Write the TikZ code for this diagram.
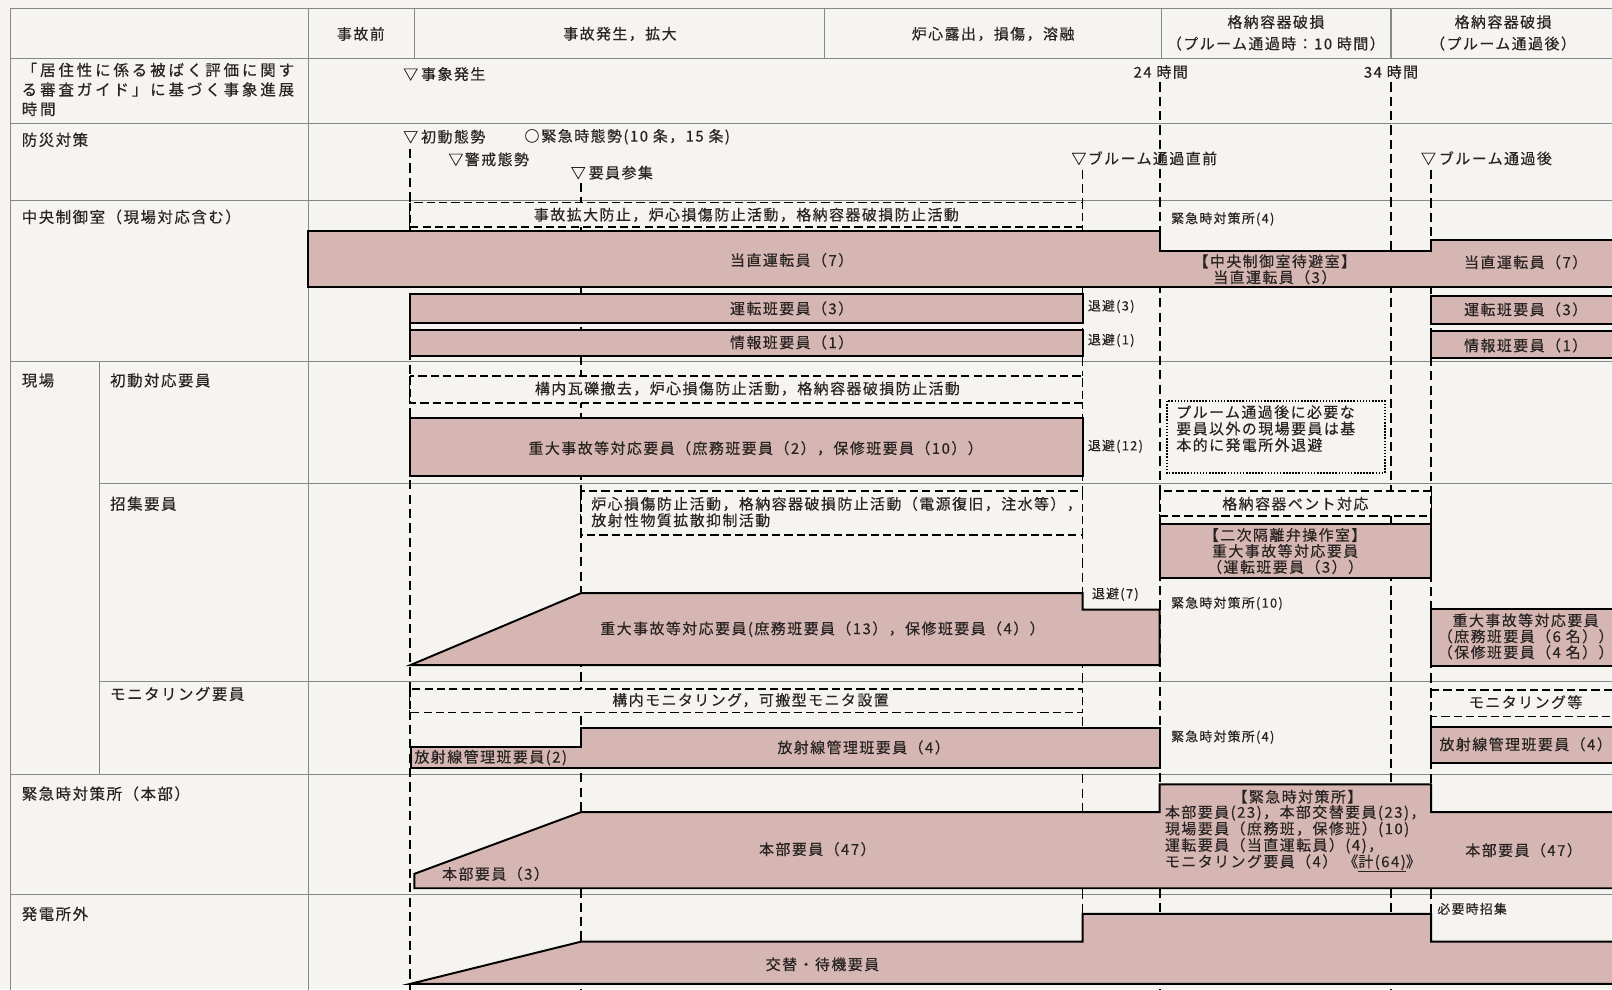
\documentclass[tikz,border=0pt]{standalone}
\usepackage{fontspec}
\setmainfont{Noto Sans CJK JP}[LetterSpace=10,FakeBold=0.4]
\newfontfamily\jpL{Noto Sans CJK JP}[LetterSpace=19,FakeBold=0.4]
\definecolor{bgc}{RGB}{245,244,240}
\definecolor{pinkc}{RGB}{214,182,178}
\definecolor{gridc}{RGB}{135,135,135}
\definecolor{txtc}{RGB}{40,36,36}
\tikzset{
 gridline/.style={draw=gridc, line width=1.1pt},
 tl/.style={draw=black, line width=1.7pt, dash pattern=on 9pt off 5pt},
 dbox/.style={draw=black, line width=1.8pt, dash pattern=on 8pt off 4pt, fill=bgc},
 dotbox/.style={draw=black, line width=1.6pt, dash pattern=on 1.5pt off 1.5pt},
 pbox/.style={draw=black, line width=1.9pt, fill=pinkc, line join=miter},
 tx/.style={font=\fontsize{14.5}{16}\selectfont, text=txtc, inner sep=0pt, align=center},
 th/.style={font=\fontsize{14.5}{21}\selectfont, text=txtc, inner sep=0pt, align=center},
 tlab/.style={font=\fontsize{15}{19}\selectfont, text=txtc, inner sep=0pt, anchor=west, align=left},
 ts/.style={font=\fontsize{12.5}{14}\selectfont, text=txtc, inner sep=0pt, anchor=west},
}
\begin{document}
\begin{tikzpicture}[x=1pt,y=-1pt]
\useasboundingbox (0,0) rectangle (1568,962);
\clip (0,0) rectangle (1568,962);
\fill[bgc] (0,0) rectangle (1568,962);

% table grid
\draw[gridline] (10,8) -- (1575,8);
\draw[gridline] (10,57) -- (1575,57);
\draw[gridline] (10,120) -- (1575,120);
\draw[gridline] (10,195) -- (1575,195);
\draw[gridline] (10,352) -- (1575,352);
\draw[gridline] (97,470) -- (1575,470);
\draw[gridline] (97,663) -- (1575,663);
\draw[gridline] (10,753) -- (1575,753);
\draw[gridline] (10,870) -- (1575,870);
\draw[gridline] (10,8) -- (10,970);
\draw[gridline] (97,352) -- (97,753);
\draw[gridline] (300,8) -- (300,970);
\draw[gridline] (403,8) -- (403,57);
\draw[gridline] (802,8) -- (802,57);
\draw[gridline] (1130,8) -- (1130,57);
\draw[gridline] (1353,8) -- (1353,57);

% timeline dashed lines
\draw[tl] (399,145) -- (399,970);
\draw[tl] (565,178) -- (565,970);
\draw[tl] (1053,165) -- (1053,970);
\draw[tl] (1128,80) -- (1128,970);
\draw[tl] (1353,80) -- (1353,970);
\draw[tl] (1392,165) -- (1392,970);

% header
\node[th] (h0) at (351,33) {事故前};
\node[th] (h1) at (603,33) {事故発生，拡大};
\node[th] (h2) at (966,33) {炉心露出，損傷，溶融};
\node[th] (h3) at (1241,32) {格納容器破損\\（プルーム通過時：10 時間）};
\node[th] (h4) at (1462,32) {格納容器破損\\（プルーム通過後）};

% left labels
\node[tlab, font=\jpL\fontsize{15}{19}\selectfont] (L1) at (21,87) {「居住性に係る被ばく評価に関す\\る審査ガイド」に基づく事象進展\\時間};
\node[tlab] (L2) at (21,136) {防災対策};
\node[tlab] (L3) at (21,211) {中央制御室（現場対応含む）};
\node[tlab] (L4) at (21,370) {現場};
\node[tlab] (L5) at (107,370) {初動対応要員};
\node[tlab] (L6) at (107,490) {招集要員};
\node[tlab] (L7) at (107,675) {モニタリング要員};
\node[tlab] (L8) at (21,772) {緊急時対策所（本部）};
\node[tlab] (L9) at (21,889) {発電所外};

% event timing row
\node[tx, anchor=west] (ev1) at (392,72) {▽\hspace{3pt}事象発生};
\node[tx] (t24) at (1129,70) {24 時間};
\node[tx] (t34) at (1353,70) {34 時間};

% disaster prevention row
\node[tx, anchor=west] (b1) at (392,133) {▽\hspace{3pt}初動態勢};
\node[tx, anchor=west] (b2) at (510,133) {○\hspace{2pt}緊急時態勢(10 条，15 条)};
\node[tx, anchor=west] (b3) at (436,155) {▽警戒態勢};
\node[tx, anchor=west] (b4) at (555,168) {▽\hspace{3pt}要員参集};
\node[tx, anchor=west] (b5) at (1042,154) {▽ブルーム通過直前};
\node[tx, anchor=west] (b6) at (1382,154) {▽\hspace{3pt}ブルーム通過後};

% central control room
\draw[dbox] (399,197) rectangle (1053,221);
\node[tx] (c0) at (726,209) {事故拡大防止，炉心損傷防止活動，格納容器破損防止活動};
\draw[pbox] (300,225) -- (1128,225) -- (1128,244) -- (1392,244) -- (1392,233) -- (1580,233) -- (1580,279) -- (300,279) -- cycle;
\node[tx] (c1) at (770,253) {当直運転員（7）};
\node[tx, font=\fontsize{14.5}{15.5}\selectfont] (c2) at (1240,262) {【中央制御室待避室】\\当直運転員（3）};
\node[tx] (c3) at (1484,255) {当直運転員（7）};
\node[ts] (c4) at (1139,213) {緊急時対策所(4)};
\draw[pbox] (399,286) rectangle (1053,314);
\node[tx] (c5) at (770,300) {運転班要員（3）};
\node[ts] (c6) at (1058,298) {退避(3)};
\draw[pbox] (399,321) rectangle (1053,346);
\node[tx] (c7) at (770,333) {情報班要員（1）};
\node[ts] (c8) at (1058,331) {退避(1)};
\draw[pbox] (1392,288) rectangle (1580,315);
\node[tx] (c9) at (1484,301) {運転班要員（3）};
\draw[pbox] (1392,322) rectangle (1580,348);
\node[tx] (c10) at (1484,336) {情報班要員（1）};

% site: initial response
\draw[dbox] (399,366) rectangle (1053,392);
\node[tx] (s0) at (727,378) {構内瓦礫撤去，炉心損傷防止活動，格納容器破損防止活動};
\draw[pbox] (399,407) rectangle (1053,463);
\node[tx] (s1) at (735,436) {重大事故等対応要員（庶務班要員（2），保修班要員（10））};
\node[ts] (s2) at (1058,434) {退避(12)};
\draw[dotbox] (1135,390) rectangle (1347,460);
\node[tx, anchor=north west, align=left] (s3) at (1144,394) {プルーム通過後に必要な\\要員以外の現場要員は基\\本的に発電所外退避};

% site: called staff
\draw[dbox] (565,478) rectangle (1053,520);
\node[tx, anchor=west, align=left] (r0) at (575,498) {炉心損傷防止活動，格納容器破損防止活動（電源復旧，注水等），\\放射性物質拡散抑制活動};
\draw[dbox] (1128,478) rectangle (1392,502);
\node[tx] (r1) at (1260,490) {格納容器ベント対応};
\draw[pbox] (1128,510) rectangle (1392,562);
\node[tx, font=\fontsize{14.5}{15.5}\selectfont] (r2) at (1250,536) {【二次隔離弁操作室】\\重大事故等対応要員\\（運転班要員（3））};
\draw[pbox] (399,647) -- (565,577) -- (1053,577) -- (1053,593) -- (1128,593) -- (1128,647) -- cycle;
\node[tx] (r3) at (800,612) {重大事故等対応要員(庶務班要員（13），保修班要員（4））};
\node[ts] (r4) at (1062,578) {退避(7)};
\node[ts] (r5) at (1139,587) {緊急時対策所(10)};
\draw[pbox] (1392,592) rectangle (1580,648);
\node[tx, font=\fontsize{14.5}{15.5}\selectfont] (r6) at (1484,619) {重大事故等対応要員\\（庶務班要員（6 名））\\（保修班要員（4 名））};

% site: monitoring staff
\draw[dbox] (399,670) rectangle (1053,693);
\node[tx] (m0) at (730,681) {構内モニタリング，可搬型モニタ設置};
\draw[pbox] (400,727) -- (565,727) -- (565,708) -- (1128,708) -- (1128,747) -- (400,747) -- cycle;
\node[tx, anchor=west] (m1) at (403,737) {放射線管理班要員(2)};
\node[tx] (m2) at (840,727) {放射線管理班要員（4）};
\node[ts] (m3) at (1139,717) {緊急時対策所(4)};
\draw[dbox] (1392,671) rectangle (1580,697);
\node[tx] (m4) at (1484,683) {モニタリング等};
\draw[pbox] (1392,707) rectangle (1580,742);
\node[tx] (m5) at (1484,724) {放射線管理班要員（4）};

% emergency response center
\draw[pbox] (403,864) -- (403,850) -- (565,790) -- (1128,790) -- (1128,763) -- (1392,763) -- (1392,790) -- (1580,790) -- (1580,864) -- cycle;
\node[tx] (k0) at (482,850) {本部要員（3）};
\node[tx] (k1) at (795,826) {本部要員（47）};
\node[tx] (k2) at (1262,775) {【緊急時対策所】};
\node[tx, anchor=north west, align=left] (k3) at (1133,783) {本部要員(23)，本部交替要員(23)，\\現場要員（庶務班，保修班）(10)\\運転要員（当直運転員）(4)，\\モニタリング要員（4）\hspace{6pt}《\underline{計(64)}》};
\node[tx] (k4) at (1482,827) {本部要員（47）};

% outside the power station
\draw[pbox] (399,957) -- (565,916) -- (1053,916) -- (1053,889) -- (1392,889) -- (1392,916) -- (1580,916) -- (1580,957) -- cycle;
\node[tx] (g0) at (800,938) {交替・待機要員};
\node[ts] (g1) at (1398,884) {必要時招集};
\end{tikzpicture}
\end{document}
